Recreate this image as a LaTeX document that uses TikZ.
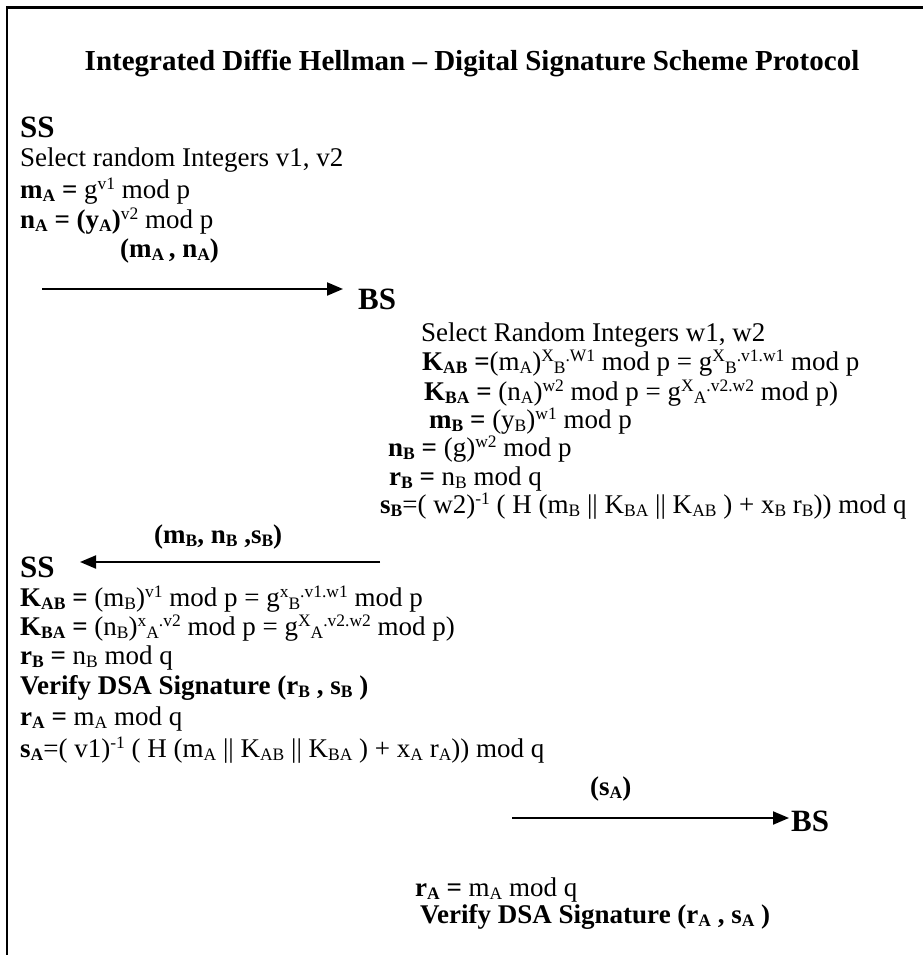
\documentclass[tikz,border=0pt]{standalone}
\usepackage{fontspec}
\setmainfont{Liberation Serif}
\usetikzlibrary{arrows.meta}
\newcommand{\sbx}[1]{\smash{\raisebox{-3.8pt}{\fontsize{17.5}{17.5}\selectfont #1}}}
\newcommand{\spx}[1]{\smash{\raisebox{9pt}{\fontsize{17.5}{17.5}\selectfont #1}}}
\begin{document}
\begin{tikzpicture}[x=1pt,y=-1pt,
  txt/.style={anchor=base west,inner sep=0pt,font=\fontsize{27}{30}\selectfont},
  btxt/.style={anchor=base west,inner sep=0pt,font=\fontsize{27}{30}\selectfont\bfseries},
  ttl/.style={anchor=base,inner sep=0pt,font=\fontsize{29}{32}\selectfont\bfseries},
  party/.style={anchor=base west,inner sep=0pt,font=\fontsize{31}{34}\selectfont\bfseries},
  msg/.style={line width=2pt,-{Triangle[length=16pt,width=13pt]}},
  frame/.style={line width=2.5pt}]
\useasboundingbox (0,0) rectangle (922,955);
% frame
\coordinate (fb) at (7,960);
\coordinate (fc) at (7,7.5);
\coordinate (fr) at (930,7.5);
\draw[frame] (fb) -- (fc) -- (fr);
% title
\node[ttl] (title) at (472,71) {Integrated Diffie Hellman – Digital Signature Scheme Protocol};
% SS first part
\node[party] (ss1) at (20,137) {SS};
\node[txt] (l1) at (20,166) {Select random Integers v1, v2};
\node[txt] (l2) at (20,198) {\textbf{m\sbx{A} =} g\spx{v1} mod p};
\node[txt] (l3) at (20,228) {\textbf{n\sbx{A} = (y\sbx{A})}\spx{v2} mod p};
\node[btxt] (m1) at (120,257) {(m\sbx{A}\,, n\sbx{A})};
\coordinate (a1s) at (42,289);
\coordinate (a1e) at (343,289);
\draw[msg] (a1s) -- (a1e);
% BS first part
\node[party] (bs1) at (358,309) {BS};
\node[txt] (r1) at (421,341) {Select Random Integers w1, w2};
\node[txt] (r2) at (422,370) {\textbf{K\sbx{AB} =}(m\sbx{A})\spx{X}\sbx{B}\spx{.W1} mod p = g\spx{X}\sbx{B}\spx{.v1.w1} mod p};
\node[txt] (r3) at (424,400) {\textbf{K\sbx{BA} =} (n\sbx{A})\spx{w2} mod p = g\spx{X}\sbx{A}\spx{.v2.w2} mod p)};
\node[txt] (r4) at (429,428) {\textbf{m\sbx{B} =} (y\sbx{B})\spx{w1} mod p};
\node[txt] (r5) at (388,456) {\textbf{n\sbx{B} =} (g)\spx{w2} mod p};
\node[txt] (r6) at (389,485) {\textbf{r\sbx{B} =} n\sbx{B} mod q};
\node[txt] (r7) at (380,513) {\textbf{s\sbx{B}}=( w2)\spx{-1} ( H (m\sbx{B} || K\sbx{BA} || K\sbx{AB} ) + x\sbx{B} r\sbx{B})) mod q};
% message 2
\node[btxt] (m2) at (154,543) {(m\sbx{B}, n\sbx{B} ,s\sbx{B})};
\coordinate (a2s) at (380,562);
\coordinate (a2e) at (80,562);
\draw[msg] (a2s) -- (a2e);
% SS second part
\node[party] (ss2) at (20,577) {SS};
\node[txt] (b1) at (20,606) {\textbf{K\sbx{AB} =} (m\sbx{B})\spx{v1} mod p = g\spx{x}\sbx{B}\spx{.v1.w1} mod p};
\node[txt] (b2) at (20,635) {\textbf{K\sbx{BA} =} (n\sbx{B})\spx{x}\sbx{A}\spx{.v2} mod p = g\spx{X}\sbx{A}\spx{.v2.w2} mod p)};
\node[txt] (b3) at (20,664) {\textbf{r\sbx{B} =} n\sbx{B} mod q};
\node[btxt] (b4) at (20,694) {Verify DSA Signature (r\sbx{B} , s\sbx{B} )};
\node[txt] (b5) at (20,725) {\textbf{r\sbx{A} =} m\sbx{A} mod q};
\node[txt] (b6) at (20,757) {\textbf{s\sbx{A}}=( v1)\spx{-1} ( H (m\sbx{A} || K\sbx{AB} || K\sbx{BA} ) + x\sbx{A} r\sbx{A})) mod q};
% message 3
\node[btxt] (m3) at (590,795) {(s\sbx{A})};
\coordinate (a3s) at (512,818);
\coordinate (a3e) at (789,818);
\draw[msg] (a3s) -- (a3e);
\node[party] (bs2) at (791,831) {BS};
\node[txt] (c1) at (415,896) {\textbf{r\sbx{A} =} m\sbx{A} mod q};
\node[btxt] (c2) at (420,923) {Verify DSA Signature (r\sbx{A} , s\sbx{A} )};
\end{tikzpicture}
\end{document}
